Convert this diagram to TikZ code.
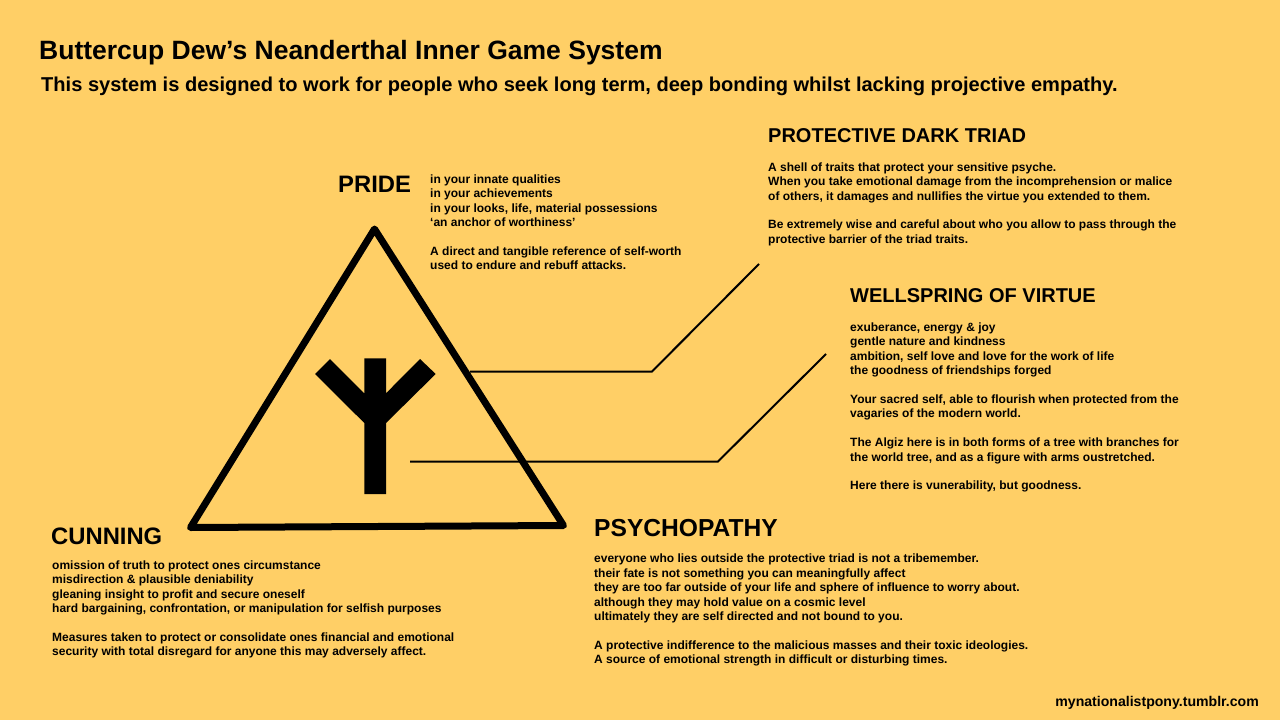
\documentclass[tikz,border=0pt]{standalone}
\usepackage{fontspec}
\setmainfont{Liberation Sans}[BoldFont={Liberation Sans Bold}]
\definecolor{bgc}{RGB}{255,207,102}
\definecolor{ink}{RGB}{0,0,0}
\tikzset{
 headtext/.style={anchor=base west,inner sep=0pt,text=ink,font=\fontsize{23.8}{28}\selectfont\bfseries},
 headsmall/.style={anchor=base west,inner sep=0pt,text=ink,font=\fontsize{20}{24}\selectfont\bfseries},
 titletext/.style={anchor=base west,inner sep=0pt,text=ink,font=\fontsize{26.5}{30}\selectfont\bfseries},
 subtext/.style={anchor=base west,inner sep=0pt,text=ink,font=\fontsize{20.06}{24}\selectfont\bfseries},
 bodytext/.style={anchor=north west,inner sep=0pt,align=left,text=ink,font=\fontsize{12}{14.4}\selectfont\bfseries},
 leader/.style={draw=ink,line width=2pt,line join=miter},
}
\begin{document}
\begin{tikzpicture}[x=1pt,y=-1pt]
\fill[bgc] (0,0) rectangle (1280,720);
\useasboundingbox (0,0) rectangle (1280,720);
% triangle
\draw[ink,line width=7pt,line join=round] (374.5,229) -- (190.5,527.5) -- (563.5,525.5) -- cycle;
% rune
\fill[ink] (364.3,358.3) -- (386,358.3) -- (386,393.3) -- (420,359) -- (435.7,374) -- (386,423) -- (386,494) -- (364.3,494) -- (364.3,423) -- (315,374) -- (330,359) -- (364.3,393.3) -- cycle;
% connectors
\coordinate (a1) at (470,371.5);
\coordinate (a2) at (652,371.5);
\coordinate (a3) at (759,264);
\coordinate (b1) at (410,461.5);
\coordinate (b2) at (718,461.5);
\coordinate (b3) at (826,354);
\draw[leader] (a1) -- (a2) -- (a3);
\draw[leader] (b1) -- (b2) -- (b3);
% titles
\node[titletext] (title) at (39,59) {Buttercup Dew’s Neanderthal Inner Game System};
\node[subtext] (subtitle) at (41,91) {This system is designed to work for people who seek long term, deep bonding whilst lacking projective empathy.};
% pride
\node[headtext] (pride) at (338,192) {PRIDE};
\node[bodytext] (pridebody) at (430,174.5) {in your innate qualities\\in your achievements\\in your looks, life, material possessions\\‘an anchor of worthiness’\\[14.4pt]A direct and tangible reference of self-worth\\used to endure and rebuff attacks.};
% triad
\node[headsmall] (triad) at (768,142.5) {PROTECTIVE DARK TRIAD};
\node[bodytext] (triadbody) at (768,162.5) {A shell of traits that protect your sensitive psyche.\\When you take emotional damage from the incomprehension or malice\\of others, it damages and nullifies the virtue you extended to them.\\[14.4pt]Be extremely wise and careful about who you allow to pass through the\\protective barrier of the triad traits.};
% wellspring
\node[headsmall] (well) at (850,302.5) {WELLSPRING OF VIRTUE};
\node[bodytext] (wellbody) at (850,322.5) {exuberance, energy \& joy\\gentle nature and kindness\\ambition, self love and love for the work of life\\the goodness of friendships forged\\[14.4pt]Your sacred self, able to flourish when protected from the\\vagaries of the modern world.\\[14.4pt]The Algiz here is in both forms of a tree with branches for\\the world tree, and as a figure with arms oustretched.\\[14.4pt]Here there is vunerability, but goodness.};
% cunning
\node[headtext] (cunning) at (51,544) {CUNNING};
\node[bodytext] (cunningbody) at (52,560.5) {omission of truth to protect ones circumstance\\misdirection \& plausible deniability\\gleaning insight to profit and secure oneself\\hard bargaining, confrontation, or manipulation for selfish purposes\\[14.4pt]Measures taken to protect or consolidate ones financial and emotional\\security with total disregard for anyone this may adversely affect.};
% psychopathy
\node[headtext,font=\fontsize{24.6}{28}\selectfont\bfseries] (psycho) at (594,536.5) {PSYCHOPATHY};
\node[bodytext] (psychobody) at (594,554) {everyone who lies outside the protective triad is not a tribemember.\\their fate is not something you can meaningfully affect\\they are too far outside of your life and sphere of influence to worry about.\\although they may hold value on a cosmic level\\ultimately they are self directed and not bound to you.\\[14.4pt]A protective indifference to the malicious masses and their toxic ideologies.\\A source of emotional strength in difficult or disturbing times.};
\node[anchor=base east,inner sep=0pt,text=ink,font=\fontsize{14.1}{16}\selectfont\bfseries] (credit) at (1259,706) {mynationalistpony.tumblr.com};
\end{tikzpicture}
\end{document}
